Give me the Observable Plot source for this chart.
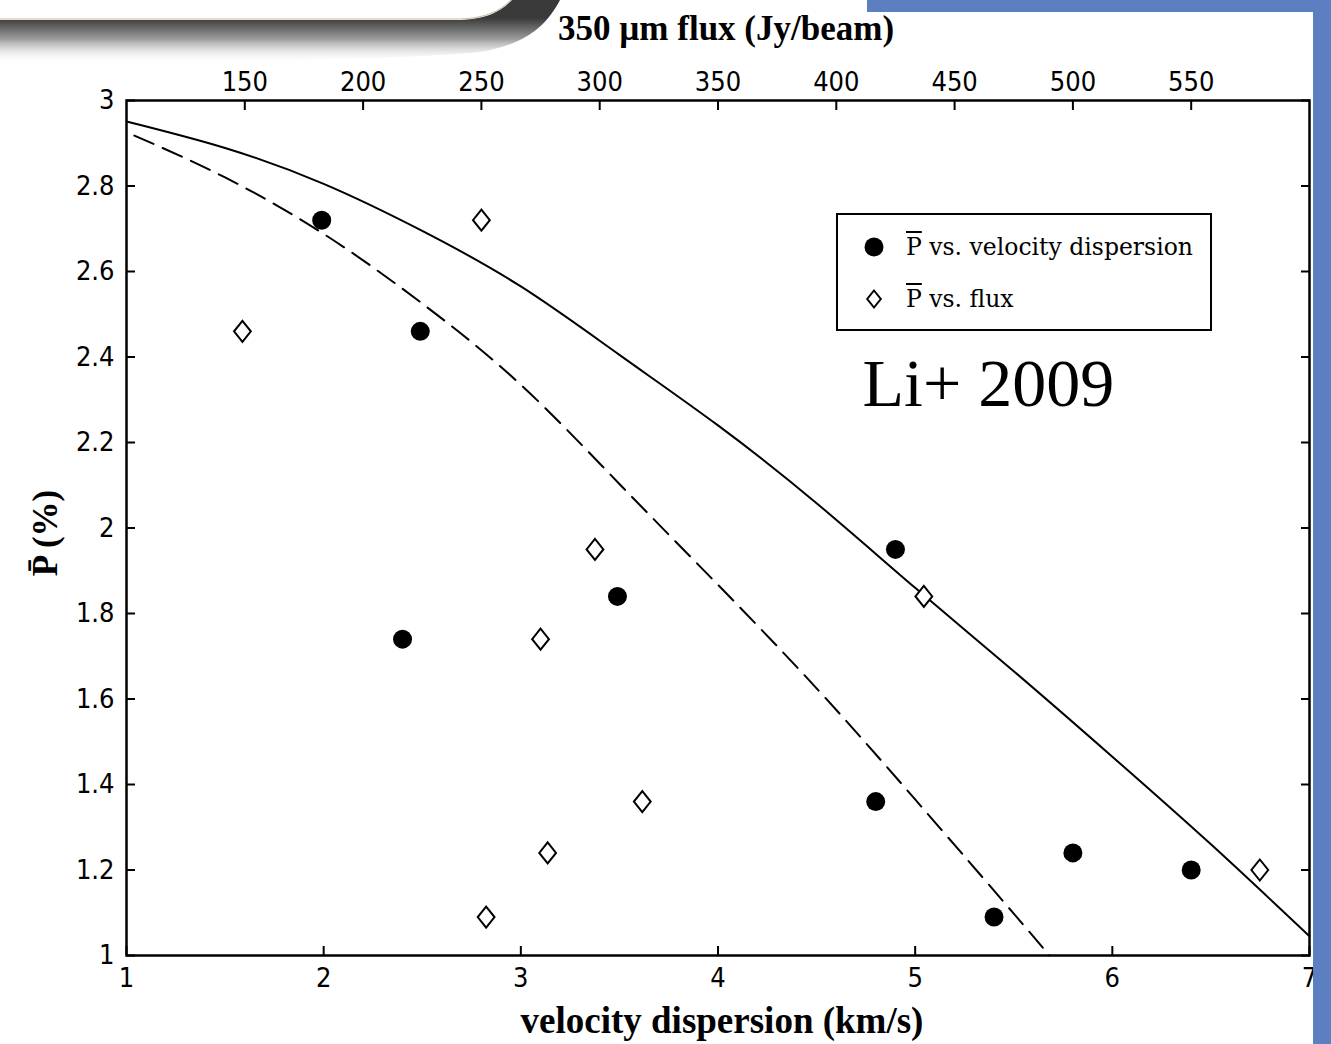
<!DOCTYPE html>
<html>
<head>
<meta charset="utf-8">
<script src="https://cdn.jsdelivr.net/npm/d3@7"></script>
<script src="https://cdn.jsdelivr.net/npm/@observablehq/plot@0.6"></script>
<style>
  html, body { margin: 0; padding: 0; background: #fff; }
  #wrap { position: relative; width: 1331px; height: 1044px; overflow: hidden; background: #fff; }
  #wrap > svg { position: absolute; left: 0; top: 0; }
  #deco { position: absolute; left: 0; top: 0; pointer-events: none; }
  #legend { position: absolute; left: 836px; top: 213px; width: 372px; height: 114px;
            border: 2px solid #000; background: #fff; font-family: "DejaVu Serif", serif; font-size: 23.5px; color: #000; }
  #legend .row { position: absolute; left: 0; height: 30px; width: 100%; }
  #legend .row svg { position: absolute; left: 24px; top: 3px; }
  #legend .row .lab { position: absolute; left: 68px; top: 0; line-height: 30px; white-space: nowrap; }
  #legend .ov { text-decoration: overline; }
</style>
</head>
<body>
<div id="wrap"></div>
<script>
// ---- data ----
const velDisp   = [1.99, 2.49, 2.40, 3.49, 4.90, 4.80, 5.40, 5.80, 6.40];   // km/s
const pVel      = [2.72, 2.46, 1.74, 1.84, 1.95, 1.36, 1.09, 1.24, 1.20];   // %
const flux350   = [250, 149, 275, 437, 298, 318, 252, 278, 579];            // Jy/beam
const pFlux     = [2.72, 2.46, 1.74, 1.84, 1.95, 1.36, 1.09, 1.24, 1.20];   // %

const solidX = [1.0, 1.5, 2.0, 2.5, 3.0, 3.5, 4.0, 4.5, 5.0, 5.5, 6.0, 6.5, 7.0];
const solidY = [2.951, 2.889, 2.805, 2.695, 2.565, 2.405, 2.240, 2.058, 1.860, 1.665, 1.465, 1.260, 1.045];
const dashX  = [1.04, 1.5, 2.0, 2.5, 3.0, 3.5, 4.0, 4.5, 5.0, 5.5, 5.68];
const dashY  = [2.918, 2.820, 2.688, 2.525, 2.335, 2.103, 1.867, 1.625, 1.365, 1.098, 1.0];

const xTicks    = [1, 2, 3, 4, 5, 6, 7];
const yTicks    = [1, 1.2, 1.4, 1.6, 1.8, 2, 2.2, 2.4, 2.6, 2.8, 3];
const fluxTicks = [150, 200, 250, 300, 350, 400, 450, 500, 550];
const fluxDomain = [100, 600];
const xDomain = [1, 7];

// ---- build rows ----
const velRows  = velDisp.map((v, i) => ({v, p: pVel[i]}));
const fluxRows = flux350.map((f, i) => ({f, p: pFlux[i]}));
const solidRows = solidX.map((v, i) => ({v, p: solidY[i]}));
const dashRows  = dashX.map((v, i) => ({v, p: dashY[i]}));

// top (flux) axis shares the frame with the bottom axis: linear map between domains
const fluxToV = f => xDomain[0] + (f - fluxDomain[0]) * (xDomain[1] - xDomain[0]) / (fluxDomain[1] - fluxDomain[0]);
const vToFlux = v => fluxDomain[0] + (v - xDomain[0]) * (fluxDomain[1] - fluxDomain[0]) / (xDomain[1] - xDomain[0]);

const diamond = {
  draw(ctx, size) {
    const h = Math.sqrt(size / Math.PI);
    const w = h * 0.8;
    ctx.moveTo(0, -h); ctx.lineTo(w, 0); ctx.lineTo(0, h); ctx.lineTo(-w, 0); ctx.closePath();
  }
};

const tickFont = '"Liberation Sans Narrow", "DejaVu Sans Condensed", "Liberation Sans", sans-serif';
const titleFont = '"Liberation Serif", "DejaVu Serif", serif';
const fmt = d => String(+(+d).toFixed(1));

const plot = Plot.plot({
  width: 1331,
  height: 1044,
  marginLeft: 126,
  marginRight: 22,
  marginTop: 100,
  marginBottom: 89,
  style: {background: "transparent", color: "#000", overflow: "visible"},
  x: {domain: xDomain},
  y: {domain: [1, 3]},
  marks: [
    Plot.line(solidRows, {x: "v", y: "p", stroke: "#000", strokeWidth: 2, curve: "natural"}),
    Plot.line(dashRows, {x: "v", y: "p", stroke: "#000", strokeWidth: 2, strokeDasharray: "21,10", curve: "natural"}),
    Plot.dot(velRows, {x: "v", y: "p", r: 9.5, fill: "#000", stroke: null}),
    Plot.dot(fluxRows, {x: d => fluxToV(d.f), y: "p", r: 10.5, symbol: diamond, fill: "#fff", stroke: "#000", strokeWidth: 2}),
    Plot.frame({stroke: "#000", strokeWidth: 2.5}),
    Plot.axisY(yTicks, {anchor: "left", tickSize: -9, tickPadding: 21, strokeWidth: 2, label: null,
      tickFormat: fmt, fontSize: 27, fontFamily: tickFont}),
    Plot.axisY(yTicks, {anchor: "right", tickSize: -9, strokeWidth: 2, label: null, tickFormat: () => ""}),
    Plot.axisX(xTicks, {anchor: "bottom", tickSize: -9, tickPadding: 21, strokeWidth: 2, label: null,
      tickFormat: fmt, fontSize: 27, fontFamily: tickFont}),
    Plot.axisX(fluxTicks.map(fluxToV), {anchor: "top", tickSize: -9, tickPadding: 19, strokeWidth: 2, label: null,
      tickFormat: v => String(Math.round(vToFlux(v))), fontSize: 27, fontFamily: tickFont}),
    Plot.text(["350 µm flux (Jy/beam)"], {frameAnchor: "top", dx: 8, dy: -72, lineAnchor: "middle",
      fontSize: 35, fontWeight: "bold", fontFamily: titleFont}),
    Plot.text(["velocity dispersion (km/s)"], {frameAnchor: "bottom", dx: 4, dy: 66, lineAnchor: "middle",
      fontSize: 37, fontWeight: "bold", fontFamily: titleFont}),
    Plot.text(["P\u0304 (%)"], {frameAnchor: "left", dx: -81, dy: 5, rotate: -90, textAnchor: "middle", lineAnchor: "middle",
      fontSize: 35, fontWeight: "bold", fontFamily: titleFont}),
    Plot.text(["Li+ 2009"], {frameAnchor: "top-left", dx: 736, dy: 305, textAnchor: "start", lineAnchor: "bottom",
      fontSize: 68, fontFamily: titleFont})
  ]
});

const wrap = document.getElementById("wrap");
wrap.appendChild(plot);

// legend (HTML overlay inside the plot area)
const legend = document.createElement("div");
legend.id = "legend";
legend.innerHTML = `
  <div class="row" style="top:17px">
    <svg width="24" height="24" viewBox="-12 -12 24 24"><circle r="9.5" fill="#000"/></svg>
    <div class="lab"><span class="ov">P</span> vs. velocity dispersion</div>
  </div>
  <div class="row" style="top:69px">
    <svg width="24" height="24" viewBox="-12 -12 24 24"><path d="M0,-8.5L6.8,0L0,8.5L-6.8,0Z" fill="#fff" stroke="#000" stroke-width="2"/></svg>
    <div class="lab"><span class="ov">P</span> vs. flux</div>
  </div>`;
wrap.appendChild(legend);

// slide decorations (grey tab shadow, blue bars)
const deco = document.createElementNS("http://www.w3.org/2000/svg", "svg");
deco.setAttribute("id", "deco");
deco.setAttribute("width", 1331);
deco.setAttribute("height", 1044);
deco.innerHTML = `
  <defs>
    <linearGradient id="sh" x1="0" y1="18" x2="0" y2="64" gradientUnits="userSpaceOnUse">
      <stop offset="0" stop-color="#3a3a3a"/>
      <stop offset="0.45" stop-color="#9a9a9a"/>
      <stop offset="1" stop-color="#ffffff" stop-opacity="0"/>
    </linearGradient>
  </defs>
  <path d="M0,20 L455,20 C485,20 500,12 512,0 L560,0 C545,28 525,44 480,52 C400,60 200,62 0,64 Z" fill="url(#sh)"/>
  <path d="M0,19 L455,19 C485,19 500,11 511,0" fill="none" stroke="#c8b9a0" stroke-width="1"/>
  <rect x="867" y="0" width="464" height="12" fill="#5b7fc1"/>
  <rect x="1313" y="0" width="18" height="1044" fill="#5b7fc1"/>`;
wrap.appendChild(deco);
</script>
</body>
</html>
